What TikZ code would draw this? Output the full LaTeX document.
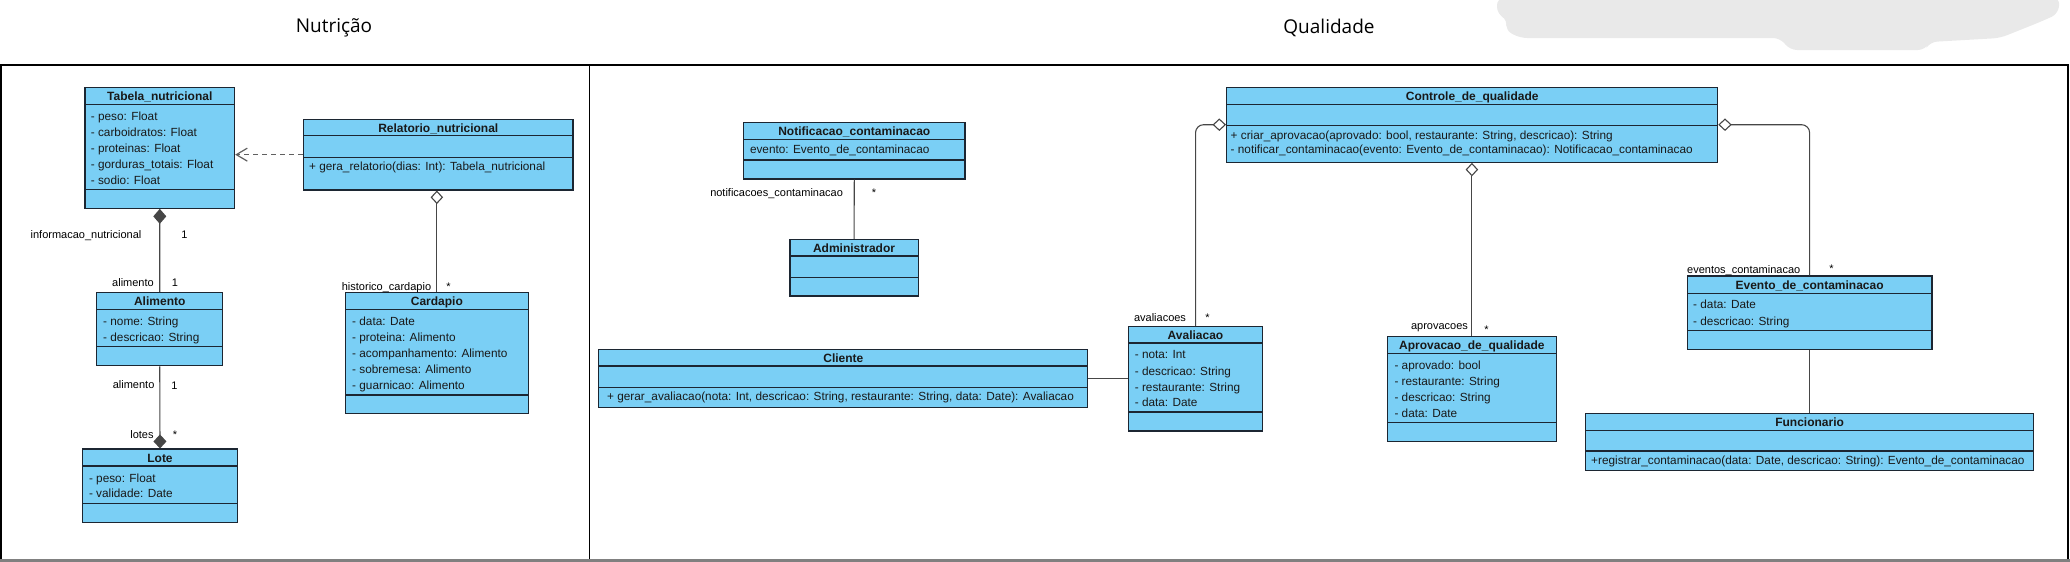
\documentclass[tikz,border=0pt]{standalone}
\usepackage{fontspec}
\setmainfont{Liberation Sans}
\newfontfamily\titlefont{Open Sans}
\usetikzlibrary{arrows.meta,fit}
\definecolor{umlblue}{RGB}{122,207,245}
\definecolor{boxline}{RGB}{28,38,50}
\definecolor{connline}{RGB}{70,70,70}
\definecolor{blob}{RGB}{233,233,233}
\newcommand\myfs[1]{\fontsize{#1}{#1}\selectfont}
\tikzset{
  cls/.style={draw=boxline, fill=umlblue, line width=1.1pt, inner sep=0pt},
  sepline/.style={draw=boxline, line width=1.1pt},
  ttl/.style={font=\myfs{12pt}\bfseries, anchor=base, inner sep=0pt, text=black!90},
  att/.style={font=\myfs{11.8pt}, anchor=base west, inner sep=0pt, text=black!90},
  lbl/.style={font=\myfs{11pt}, anchor=base, inner sep=0pt},
  conn/.style={draw=connline, line width=1.1pt},
  hdiam/.style={{Diamond[open, fill=white, length=13.5pt, width=12.5pt]}-},
  fdiam/.style={{Diamond[length=15pt, width=13pt]}-},
  fdiamend/.style={-{Diamond[length=14pt, width=13pt]}},
  depend/.style={draw=gray!75!black, line width=1.2pt, dash pattern=on 5pt off 4pt, -{Straight Barb[length=11pt, width=13pt]}},
  heading/.style={font=\titlefont\myfs{19pt}, inner sep=0pt}
}
\begin{document}
\begin{tikzpicture}[x=1pt,y=-1pt]
\useasboundingbox (0,0) rectangle (2070,562);
% redaction blob
\fill[blob, rounded corners=7pt] (1497,-2) -- (2060,-2) -- (2058,14) -- (2040,22) -- (2000,38) -- (1930,42) -- (1925,50) -- (1790,50) -- (1780,38) -- (1520,38) -- (1505,30) -- (1508,20) -- (1497,14) -- cycle;
% headings
\node[heading] (hnut) at (334,28) {Nutrição};
\node[heading] (hqual) at (1329,28) {Qualidade};
% frames
\draw[black, line width=1pt] (589,65) -- (589,560);
\draw[black, line width=2pt] (1,560) -- (1,65) -- (2068,65) -- (2068,560);
\draw[gray, line width=3pt] (0,560) -- (2070,560);

% ---------- Tabela_nutricional
\node[cls, fit={(85,87.3) (234.6,208.3)}] (tabela) {};
\draw[sepline] (85,104.3) -- (234.6,104.3);
\draw[sepline] (85,189.3) -- (234.6,189.3);
\node[ttl] (tabela-t) at (159.8,100) {Tabela\_nutricional};
\node[att] (tabela-a1) at (90.7,120.5) {- peso: Float};
\node[att] (tabela-a2) at (90.7,136.5) {- carboidratos: Float};
\node[att] (tabela-a3) at (90.7,152.5) {- proteinas: Float};
\node[att] (tabela-a4) at (90.7,168.5) {- gorduras\_totais: Float};
\node[att] (tabela-a5) at (90.7,184.5) {- sodio: Float};

% ---------- Relatorio_nutricional
\node[cls, fit={(303.5,119.3) (573,190)}] (relatorio) {};
\draw[sepline] (303.5,135.7) -- (573,135.7);
\draw[sepline] (303.5,157.7) -- (573,157.7);
\node[ttl] (relatorio-t) at (438.3,132) {Relatorio\_nutricional};
\node[att] (relatorio-m1) at (309,170.5) {+ gera\_relatorio(dias: Int): Tabela\_nutricional};

% ---------- Alimento
\node[cls, fit={(96.8,292.7) (222.7,365.7)}] (alimento) {};
\draw[sepline] (96.8,309.3) -- (222.7,309.3);
\draw[sepline] (96.8,346.7) -- (222.7,346.7);
\node[ttl] (alimento-t) at (159.75,305.3) {Alimento};
\node[att] (alimento-a1) at (103,325.5) {- nome: String};
\node[att] (alimento-a2) at (103,341.2) {- descricao: String};

% ---------- Lote
\node[cls, fit={(82.7,449) (237.3,522.3)}] (lote) {};
\draw[sepline] (82.7,466) -- (237.3,466);
\draw[sepline] (82.7,503.3) -- (237.3,503.3);
\node[ttl] (lote-t) at (160,462) {Lote};
\node[att] (lote-a1) at (88.8,482.2) {- peso: Float};
\node[att] (lote-a2) at (88.8,497.8) {- validade: Date};

% ---------- Cardapio
\node[cls, fit={(345.2,292.7) (528.5,413.7)}] (cardapio) {};
\draw[sepline] (345.2,309.3) -- (528.5,309.3);
\draw[sepline] (345.2,395) -- (528.5,395);
\node[ttl] (cardapio-t) at (436.9,305.3) {Cardapio};
\node[att] (cardapio-a1) at (352,325.2) {- data: Date};
\node[att] (cardapio-a2) at (352,341.2) {- proteina: Alimento};
\node[att] (cardapio-a3) at (352,357.2) {- acompanhamento: Alimento};
\node[att] (cardapio-a4) at (352,373.2) {- sobremesa: Alimento};
\node[att] (cardapio-a5) at (352,389.2) {- guarnicao: Alimento};

% ---------- Notificacao_contaminacao
\node[cls, fit={(743.6,122.3) (965,179)}] (notif) {};
\draw[sepline] (743.6,139.3) -- (965,139.3);
\draw[sepline] (743.6,160) -- (965,160);
\node[ttl] (notif-t) at (854.3,135) {Notificacao\_contaminacao};
\node[att] (notif-a1) at (749.8,153.8) {evento: Evento\_de\_contaminacao};

% ---------- Administrador
\node[cls, fit={(790,239.3) (918.1,296)}] (admin) {};
\draw[sepline] (790,256) -- (918.1,256);
\draw[sepline] (790,277.3) -- (918.1,277.3);
\node[ttl] (admin-t) at (854,252) {Administrador};

% ---------- Controle_de_qualidade
\node[cls, fit={(1226.6,87.3) (1717.7,162.3)}] (controle) {};
\draw[sepline] (1226.6,104.3) -- (1717.7,104.3);
\draw[sepline] (1226.6,125.3) -- (1717.7,125.3);
\node[ttl] (controle-t) at (1472.2,100) {Controle\_de\_qualidade};
\node[att] (controle-m1) at (1230.5,139.2) {+ criar\_aprovacao(aprovado: bool, restaurante: String, descricao): String};
\node[att] (controle-m2) at (1230.5,153.8) {- notificar\_contaminacao(evento: Evento\_de\_contaminacao): Notificacao\_contaminacao};

% ---------- Cliente
\node[cls, fit={(598.9,349.3) (1087.8,407.7)}] (cliente) {};
\draw[sepline] (598.9,366) -- (1087.8,366);
\draw[sepline] (598.9,387.3) -- (1087.8,387.3);
\node[ttl] (cliente-t) at (843.4,362) {Cliente};
\node[att] (cliente-m1) at (607,400.8) {+ gerar\_avaliacao(nota: Int, descricao: String, restaurante: String, data: Date): Avaliacao};

% ---------- Avaliacao
\node[cls, fit={(1128.8,326.7) (1262.3,431)}] (avaliacao) {};
\draw[sepline] (1128.8,343) -- (1262.3,343);
\draw[sepline] (1128.8,412) -- (1262.3,412);
\node[ttl] (avaliacao-t) at (1195.5,339) {Avaliacao};
\node[att] (avaliacao-a1) at (1134.6,358.8) {- nota: Int};
\node[att] (avaliacao-a2) at (1134.6,375) {- descricao: String};
\node[att] (avaliacao-a3) at (1134.6,391) {- restaurante: String};
\node[att] (avaliacao-a4) at (1134.6,406.8) {- data: Date};

% ---------- Aprovacao_de_qualidade
\node[cls, fit={(1387.4,336.7) (1556.4,441.7)}] (aprovacao) {};
\draw[sepline] (1387.4,353.3) -- (1556.4,353.3);
\draw[sepline] (1387.4,422.7) -- (1556.4,422.7);
\node[ttl] (aprovacao-t) at (1471.9,349.2) {Aprovacao\_de\_qualidade};
\node[att] (aprovacao-a1) at (1394.3,369.5) {- aprovado: bool};
\node[att] (aprovacao-a2) at (1394.3,385.5) {- restaurante: String};
\node[att] (aprovacao-a3) at (1394.3,401.5) {- descricao: String};
\node[att] (aprovacao-a4) at (1394.3,417.2) {- data: Date};

% ---------- Evento_de_contaminacao
\node[cls, fit={(1687.2,276) (1932,349.3)}] (evento) {};
\draw[sepline] (1687.2,293.3) -- (1932,293.3);
\draw[sepline] (1687.2,330.7) -- (1932,330.7);
\node[ttl] (evento-t) at (1809.6,289) {Evento\_de\_contaminacao};
\node[att] (evento-a1) at (1693,308.8) {- data: Date};
\node[att] (evento-a2) at (1693,325) {- descricao: String};

% ---------- Funcionario
\node[cls, fit={(1585.4,413.3) (2033.8,470.7)}] (funcionario) {};
\draw[sepline] (1585.4,430.3) -- (2033.8,430.3);
\draw[sepline] (1585.4,451) -- (2033.8,451);
\node[ttl] (funcionario-t) at (1809.6,426.3) {Funcionario};
\node[att] (funcionario-m1) at (1591,464.6) {+registrar\_contaminacao(data: Date, descricao: String): Evento\_de\_contaminacao};

% ---------- connectors
\draw[conn, fdiam] (tabela.south) -- (alimento.north);
\draw[conn, fdiamend] (alimento.south) -- (lote.north);
\draw[conn, hdiam] (relatorio.south -| cardapio.north) -- (cardapio.north);
\draw[depend] (relatorio.west) -- (tabela.east |- relatorio.west);
\draw[conn] (notif.south) -- (admin.north);
\draw[conn, hdiam, rounded corners=8pt] (controle.west |- 0,124.7) -| (avaliacao.north);
\draw[conn, hdiam] (controle.south -| aprovacao.north) -- (aprovacao.north);
\draw[conn, hdiam, rounded corners=8pt] (controle.east |- 0,124.7) -| (evento.north);
\draw[conn] (cliente.east) -- (cliente.east -| avaliacao.west);
\draw[conn] (evento.south) -- (funcionario.north);

% ---------- role labels and multiplicities
\node[lbl] (l1) at (86,238) {informacao\_nutricional};
\node[lbl] (l1m) at (184.5,238) {1};
\node[lbl] (l2) at (133,286.7) {alimento};
\node[lbl] (l2m) at (175,286.7) {1};
\node[lbl] (l3) at (133.6,388.3) {alimento};
\node[lbl] (l3m) at (174.5,389) {1};
\node[lbl] (l4) at (142,438) {lotes};
\node[lbl] (l4m) at (175,438) {*};
\node[lbl] (l5) at (386.5,290) {historico\_cardapio};
\node[lbl] (l5m) at (448.5,290) {*};
\node[lbl] (l6) at (776.6,196.3) {notificacoes\_contaminacao};
\node[lbl] (l6m) at (874,196) {*};
\node[lbl] (l7) at (1160,321.3) {avaliacoes};
\node[lbl] (l7m) at (1207.4,321) {*};
\node[lbl] (l8) at (1439.5,329.7) {aprovacoes};
\node[lbl] (l8m) at (1486.6,333) {*};
\node[lbl] (l9) at (1743.7,273.3) {eventos\_contaminacao};
\node[lbl] (l9m) at (1831.5,272) {*};
\end{tikzpicture}
\end{document}
